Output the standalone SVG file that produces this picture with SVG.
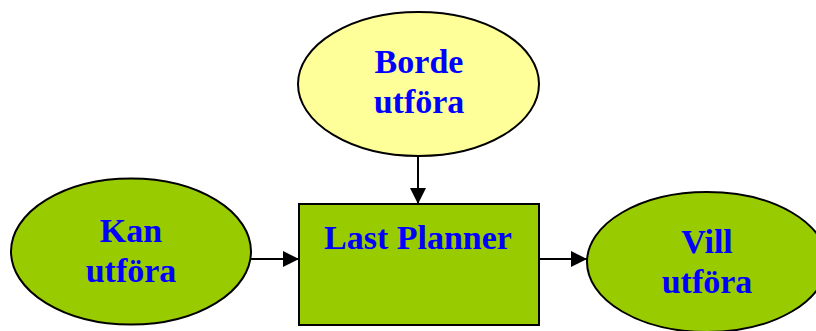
<svg xmlns="http://www.w3.org/2000/svg" width="816" height="331" viewBox="0 0 816 331">
  <style>
    .shape { stroke: #000; stroke-width: 2; }
    .yellow { fill: #FFFF99; }
    .green { fill: #99CC00; }
    .label { font-family: "Liberation Serif", "Times New Roman", serif; font-weight: bold; font-size: 34px; fill: #0000FF; text-anchor: middle; }
    .conn { stroke: #000; stroke-width: 2; fill: none; marker-end: url(#arrow); }
  </style>
  <defs>
    <marker id="arrow" viewBox="0 0 10 10" refX="10" refY="5" markerWidth="16" markerHeight="16" markerUnits="userSpaceOnUse" orient="auto">
      <path d="M0,0 L10,5 L0,10 z" fill="#000"/>
    </marker>
  </defs>
  <rect width="816" height="331" fill="#fff"/>

  <g id="connectors">
    <line class="conn" x1="418" y1="156" x2="418" y2="204"/>
    <line class="conn" x1="251" y1="259" x2="299" y2="259"/>
    <line class="conn" x1="539" y1="259" x2="587" y2="259"/>
  </g>

  <g id="borde">
    <ellipse class="shape yellow" cx="418.5" cy="84" rx="120.5" ry="72"/>
    <text class="label" x="419" y="73">Borde</text>
    <text class="label" x="419" y="113">utföra</text>
  </g>

  <g id="kan">
    <ellipse class="shape green" cx="131" cy="251.5" rx="120" ry="73"/>
    <text class="label" x="131" y="242">Kan</text>
    <text class="label" x="131" y="282">utföra</text>
  </g>

  <g id="last-planner">
    <rect class="shape green" x="299" y="204" width="240" height="121"/>
    <text class="label" x="418" y="249">Last Planner</text>
  </g>

  <g id="vill">
    <ellipse class="shape green" cx="707" cy="262" rx="120" ry="70"/>
    <text class="label" x="707" y="253">Vill</text>
    <text class="label" x="707" y="293">utföra</text>
  </g>
</svg>
